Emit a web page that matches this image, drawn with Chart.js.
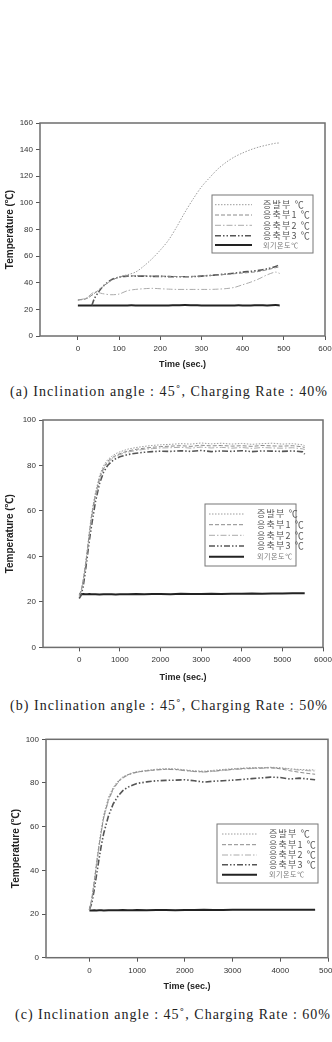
<!DOCTYPE html>
<html>
<head>
<meta charset="utf-8">
<script src="https://cdn.jsdelivr.net/npm/chart.js@4.4.1/dist/chart.umd.min.js"></script>
<style>
  html, body { margin: 0; padding: 0; background: #fff; overflow: hidden; }
  body { width: 332px; height: 1042px; position: relative; }
  canvas { position: absolute; left: 0; }
  .cap {
    position: absolute;
    white-space: nowrap;
    font-family: "Liberation Serif", "DejaVu Serif", serif;
    font-size: 14px;
    line-height: 16px;
    color: #222;
  }
</style>
</head>
<body>
<canvas id="chart-a" width="332" height="270" style="top:110px;width:332px;height:270px"></canvas>
<div class="cap" data-w="318" style="left:10px;top:384px">(a) Inclination angle : 45˚, Charging Rate : 40%</div>
<canvas id="chart-b" width="332" height="290" style="top:400px;width:332px;height:290px"></canvas>
<div class="cap" data-w="318" style="left:10px;top:698px">(b) Inclination angle : 45˚, Charging Rate : 50%</div>
<canvas id="chart-c" width="332" height="280" style="top:720px;width:332px;height:280px"></canvas>
<div class="cap" data-w="316" style="left:15px;top:1007px">(c) Inclination angle : 45˚, Charging Rate : 60%</div>

<script>
// ── Series names ───────────────────────────────────────────────────────────
const SERIES_LABELS = ["증발부 ℃", "응축부1 ℃", "응축부2 ℃", "응축부3 ℃", "외기온도℃"];

// ── (a) 40% charge ─────────────────────────────────────────────────────────
const X_TICKS_A = [0, 100, 200, 300, 400, 500, 600];
const TIME_A = [0, 20, 40, 60, 80, 100, 120, 140, 160, 180, 200, 220, 240, 260, 280, 300, 320, 340, 360, 380, 400, 420, 440, 460, 480, 490];
const EVAP_A = [27, 28, 32, 37, 41.5, 44.5, 46, 48, 52.5, 58, 64.5, 72, 82, 93, 103, 112, 119, 125.5, 130.5, 134.5, 137.5, 140, 142, 143.5, 144.8, 145];
const COND1_A = [27, 28, 32, 37, 41.5, 44.2, 45, 45.2, 45.2, 45, 45, 44.8, 44.7, 44.6, 44.8, 45, 45.4, 45.8, 46.3, 46.8, 47.3, 47.8, 48.5, 49.8, 51.3, 52];
const COND2_A = [27, 28.5, 33, 31.8, 31, 31.5, 34, 35, 35.5, 35.8, 35.5, 35.2, 35, 35, 35, 35, 35, 35.2, 35.6, 36.5, 38.5, 40.5, 43, 46, 48, 47];
const TIME_A3 = [34, 40, 50, 60, 80, 100, 120, 140, 160, 180, 200, 220, 240, 260, 280, 300, 320, 340, 360, 380, 400, 420, 440, 460, 480, 490];
const COND3_A = [23, 28, 33, 37, 42, 44.3, 45, 45, 45, 44.8, 44.8, 44.6, 44.5, 44.5, 44.6, 45, 45.5, 46, 46.6, 47.2, 48, 48.6, 49.3, 50.5, 52.2, 53.8];
const AMB_A = [23, 23, 23, 23, 23, 23, 23, 23, 22.9, 22.9, 22.9, 23, 23.1, 23.2, 23.1, 23, 23, 22.9, 22.9, 23, 23, 23, 23.1, 23, 23.2, 23];

// ── (b) 50% charge ─────────────────────────────────────────────────────────
const X_TICKS_B = [0, 1000, 2000, 3000, 4000, 5000, 6000];
const TIME_B = [0, 50, 100, 150, 200, 250, 300, 350, 400, 500, 600, 700, 800, 900, 1000, 1200, 1400, 1600, 1800, 2000, 2250, 2500, 2750, 3000, 3250, 3500, 3750, 4000, 4250, 4500, 4750, 5000, 5250, 5500, 5550];
const EVAP_B = [23, 25, 30, 36, 43, 51, 58, 63.5, 68, 75.5, 80, 82.5, 84, 85.2, 86, 87.2, 87.9, 88.4, 88.8, 89.1, 89.3, 89.6, 89.4, 89.9, 89.5, 89.8, 89.4, 89.7, 89.3, 89.6, 89.8, 89.4, 89.6, 89.1, 88.6];
const COND1_B = [23, 25, 29.5, 35.5, 42.5, 50, 57, 62.5, 67, 74.5, 79, 81.8, 83.3, 84.4, 85.2, 86.4, 87.1, 87.6, 88, 88.3, 88.5, 88.7, 88.4, 88.9, 88.6, 88.8, 88.5, 88.7, 88.4, 88.8, 88.6, 88.5, 88.7, 88.2, 87.8];
const COND2_B = [22.5, 24.5, 29, 35, 42, 49.5, 56, 61.5, 66, 73.5, 78.5, 81.2, 82.8, 84, 84.8, 85.9, 86.6, 87.1, 87.4, 87.7, 87.8, 88, 87.6, 88.1, 87.7, 88, 87.6, 87.9, 87.5, 87.9, 87.7, 87.6, 87.8, 87.3, 87];
const COND3_B = [21.5, 23, 27, 33, 40, 47, 53, 58.5, 64, 72, 77, 80, 81.8, 83, 83.8, 84.8, 85.4, 85.8, 86.1, 86.3, 86.2, 86.5, 86.2, 86.6, 86.1, 86.4, 86.2, 86.5, 86.1, 86.4, 86.3, 86.2, 86.4, 86, 85];
const AMB_B = [23.4, 23.4, 23.5, 23.4, 23.4, 23.5, 23.4, 23.4, 23.4, 23.3, 23.4, 23.4, 23.4, 23.3, 23.4, 23.4, 23.5, 23.4, 23.5, 23.5, 23.4, 23.6, 23.5, 23.5, 23.6, 23.5, 23.6, 23.6, 23.7, 23.6, 23.7, 23.7, 23.8, 23.8, 23.8];

// ── (c) 60% charge ─────────────────────────────────────────────────────────
const X_TICKS_C = [0, 1000, 2000, 3000, 4000, 5000];
const TIME_C = [0, 50, 100, 150, 200, 250, 300, 400, 500, 600, 700, 800, 900, 1000, 1200, 1400, 1600, 1800, 2000, 2200, 2400, 2600, 2800, 3000, 3200, 3400, 3600, 3800, 4000, 4200, 4400, 4600, 4730];
const EVAP_C = [22, 27, 35, 44, 52, 59, 65.5, 73.5, 78, 81, 82.8, 83.9, 84.7, 85.2, 85.8, 86.3, 86.6, 86.5, 86, 85.6, 85.4, 85.8, 86.2, 86.5, 86.8, 87, 87, 87.2, 87, 86.5, 86.2, 86, 86];
const COND1_C = [22, 27, 34.5, 43, 51, 58, 64.5, 72.5, 77.5, 80.5, 82.5, 83.7, 84.5, 85, 85.6, 86, 86.3, 86.2, 85.8, 85.3, 85.1, 85.5, 85.9, 86.3, 86.6, 86.8, 86.9, 87, 86.5, 85.6, 84.9, 84.3, 84];
const COND2_C = [22, 26.5, 34, 42.5, 50.5, 57.5, 64, 72, 77, 80.2, 82.2, 83.5, 84.3, 84.9, 85.5, 86, 86.2, 86.1, 85.6, 85.2, 85, 85.3, 85.7, 86.1, 86.4, 86.6, 86.7, 86.9, 86.8, 86.3, 85.9, 85.6, 85.5];
const COND3_C = [22, 25, 31, 38, 45, 51.5, 57, 65, 70.5, 74, 76.5, 78, 79, 79.8, 80.5, 81, 81.2, 81.3, 81.5, 81, 80.4, 80.8, 81, 81.3, 81.6, 82, 82.3, 82.7, 82.5, 81.8, 82.2, 81.8, 81.5];
const AMB_C = [21.6, 21.6, 21.7, 21.6, 21.7, 21.7, 21.6, 21.7, 21.7, 21.7, 21.8, 21.7, 21.7, 21.8, 21.7, 21.8, 21.8, 21.7, 21.8, 21.8, 21.9, 21.8, 21.8, 21.9, 21.9, 21.9, 22, 21.9, 22, 22, 22, 22, 22];

// line styles per series (same order as SERIES_LABELS)
const STYLES = [
  { color: "#9c9c9c", dash: [1.5, 1.5], width: 1 },
  { color: "#8a8a8a", dash: [4, 2], width: 1 },
  { color: "#ababab", dash: [6, 2, 1.5, 2], width: 1 },
  { color: "#555555", dash: [6, 2, 1.5, 2, 1.5, 2], width: 1.6 },
  { color: "#222222", dash: [], width: 2 },
];

const FONT = "'Liberation Sans', Arial, 'Noto Sans CJK KR', sans-serif";

function pts(xs, ys) {
  return xs.map((x, i) => ({ x, y: ys[i] }));
}

function makeDatasets(pairs, tension) {
  return pairs.map(([xs, ys], i) => ({
    label: SERIES_LABELS[i],
    data: pts(xs, ys),
    borderColor: STYLES[i].color,
    borderDash: STYLES[i].dash,
    borderWidth: STYLES[i].width,
    pointRadius: 0,
    fill: false,
    tension,
  }));
}

// draw text one glyph at a time with extra tracking
function spacedText(ctx, text, x, y, gap) {
  for (const ch of text) {
    ctx.fillText(ch, x, y);
    x += ctx.measureText(ch).width + gap;
  }
}

// ── Frame + in-plot legend ─────────────────────────────────────────────────
const framePlugin = {
  id: "frame",
  afterDraw(chart, args, opts) {
    const { ctx, chartArea: a } = chart;
    ctx.save();
    ctx.setLineDash([]);
    ctx.strokeStyle = "#6e6e6e";
    ctx.lineWidth = 1.5;
    ctx.strokeRect(a.left, a.top, a.right - a.left, a.bottom - a.top);

    const L = opts.box;
    if (L) {
      ctx.fillStyle = "#fff";
      ctx.fillRect(L.x, L.y, L.w, L.h);
      ctx.strokeStyle = "#777";
      ctx.lineWidth = 1;
      ctx.strokeRect(L.x, L.y, L.w, L.h);
      chart.data.datasets.forEach((ds, i) => {
        const y = L.rows[i];
        ctx.beginPath();
        ctx.setLineDash(ds.borderDash);
        ctx.strokeStyle = ds.borderColor;
        ctx.lineWidth = ds.borderWidth;
        ctx.moveTo(L.x1, y);
        ctx.lineTo(L.x2, y);
        ctx.stroke();
        ctx.setLineDash([]);
        const small = i === 4;
        ctx.font = (small ? "7px " : "9px ") + "'Noto Sans CJK KR', sans-serif";
        ctx.fillStyle = small ? "#777" : "#555";
        ctx.textAlign = "left";
        ctx.textBaseline = "middle";
        spacedText(ctx, ds.label, L.tx, y, small ? 0.6 : 1.2);
      });
    }
    ctx.restore();
  },
};

function renderPanel(id, datasets, lay) {
  return new Chart(document.getElementById(id), {
    type: "line",
    data: { datasets },
    options: {
      responsive: false,
      animation: false,
      devicePixelRatio: 1,
      layout: { padding: { top: lay.top, right: lay.right, left: 0, bottom: 0 } },
      plugins: {
        legend: { display: false },
        tooltip: { enabled: false },
        frame: { box: lay.legend },
      },
      scales: {
        x: {
          type: "linear",
          min: lay.xMin,
          max: lay.xMax,
          afterBuildTicks: (s) => {
            s.ticks = lay.xTicks.map((value) => ({ value }));
          },
          afterFit: (s) => {
            s.height = lay.xHeight;
            s.paddingLeft = 0;
            s.paddingRight = 0;
          },
          ticks: {
            autoSkip: false,
            maxRotation: 0,
            padding: 4,
            color: "#333",
            font: { family: FONT, size: 8 },
            callback: (v) => String(v),
          },
          grid: { drawOnChartArea: false, drawTicks: true, tickLength: 4, tickColor: "#555" },
          border: { display: false },
          title: {
            display: true,
            text: "Time (sec.)",
            color: "#222",
            font: { family: FONT, size: 9, weight: "bold" },
            padding: { top: 0, bottom: lay.xTitlePad },
          },
        },
        y: {
          min: 0,
          max: lay.yMax,
          afterFit: (s) => {
            s.width = lay.yWidth;
          },
          ticks: {
            stepSize: 20,
            padding: 3,
            color: "#333",
            font: { family: FONT, size: 8 },
            callback: (v) => String(v),
          },
          grid: { drawOnChartArea: false, drawTicks: true, tickLength: 4, tickColor: "#555" },
          border: { display: false },
          title: {
            display: true,
            text: "Temperature (℃)",
            color: "#222",
            font: { family: FONT, size: 10, weight: "bold" },
            padding: { top: lay.yTitlePad, bottom: 0 },
          },
        },
      },
    },
    plugins: [framePlugin],
  });
}

renderPanel(
  "chart-a",
  makeDatasets(
    [[TIME_A, EVAP_A], [TIME_A, COND1_A], [TIME_A, COND2_A], [TIME_A3, COND3_A], [TIME_A, AMB_A]],
    0.3
  ),
  {
    top: 13, right: 7, yWidth: 40, xHeight: 44, xTitlePad: 10, yTitlePad: 4,
    xMin: -92, xMax: 600, xTicks: X_TICKS_A, yMax: 160,
    legend: { x: 212, y: 85, w: 101, h: 58, rows: [94.7, 105, 115.3, 125.7, 135], x1: 215, x2: 252, tx: 263 },
  }
);

renderPanel(
  "chart-b",
  makeDatasets(
    [[TIME_B, EVAP_B], [TIME_B, COND1_B], [TIME_B, COND2_B], [TIME_B, COND3_B], [TIME_B, AMB_B]],
    0
  ),
  {
    top: 20, right: 9, yWidth: 43, xHeight: 42.6, xTitlePad: 6.6, yTitlePad: 4,
    xMin: -890, xMax: 6000, xTicks: X_TICKS_B, yMax: 100,
    legend: { x: 205, y: 104, w: 91, h: 62, rows: [114, 124.7, 135.3, 146, 156.7], x1: 209, x2: 244, tx: 257 },
  }
);

renderPanel(
  "chart-c",
  makeDatasets(
    [[TIME_C, EVAP_C], [TIME_C, COND1_C], [TIME_C, COND2_C], [TIME_C, COND3_C], [TIME_C, AMB_C]],
    0
  ),
  {
    top: 19.3, right: 4, yWidth: 46, xHeight: 42.3, xTitlePad: 7.9, yTitlePad: 10,
    xMin: -910, xMax: 5000, xTicks: X_TICKS_C, yMax: 100,
    legend: { x: 217, y: 104, w: 101, h: 59, rows: [114, 124.7, 135, 144.7, 154.7], x1: 222, x2: 257, tx: 269 },
  }
);

// stretch captions to the printed width
document.querySelectorAll(".cap").forEach((el) => {
  const target = +el.dataset.w;
  const w = el.getBoundingClientRect().width;
  el.style.letterSpacing = (target - w) / el.textContent.length + "px";
});
</script>
</body>
</html>
